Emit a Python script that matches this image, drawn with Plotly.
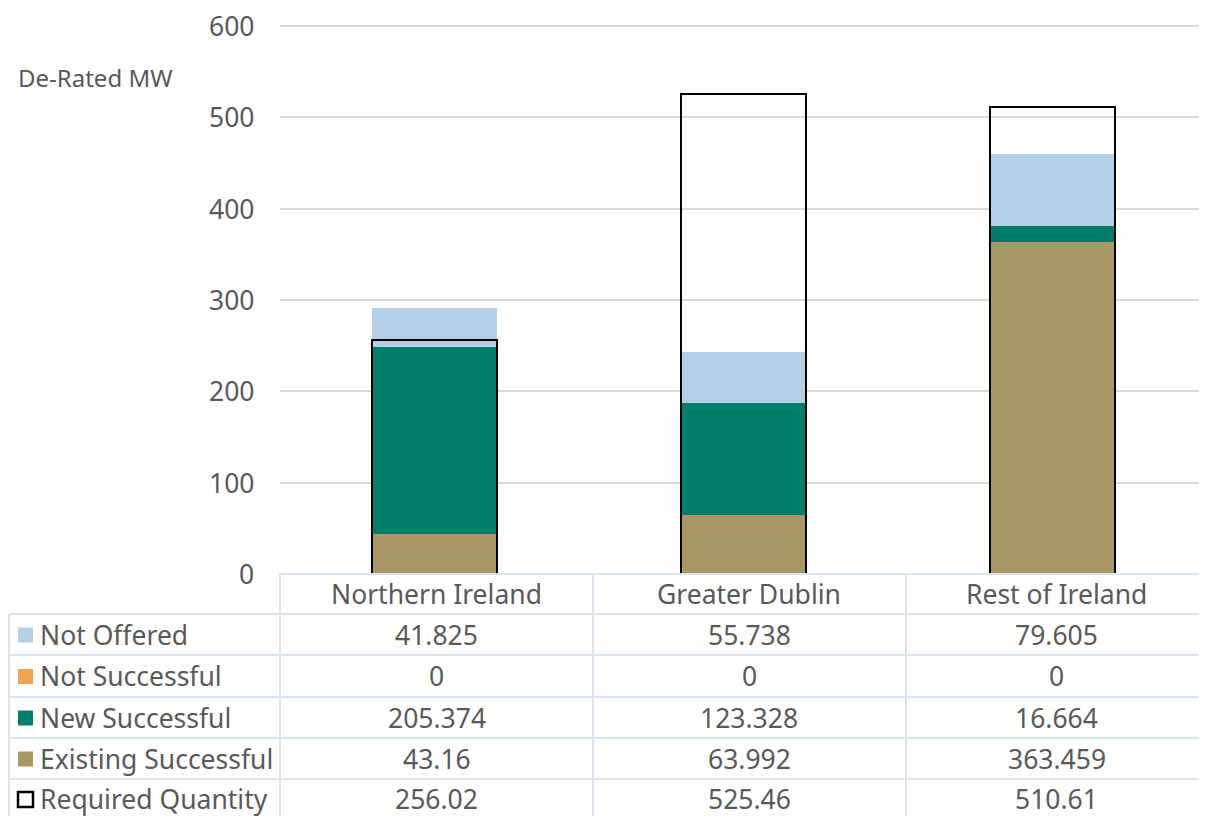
import plotly.graph_objects as go

W, H = 1207, 816
OFF = 8  # page body margin offset

categories = ["Northern Ireland", "Greater Dublin", "Rest of Ireland"]
not_offered = [41.825, 55.738, 79.605]
not_successful = [0, 0, 0]
new_successful = [205.374, 123.328, 16.664]
existing_successful = [43.16, 63.992, 363.459]
required_quantity = [256.02, 525.46, 510.61]
y_ticks = [0, 100, 200, 300, 400, 500, 600]
y_title = "De-Rated MW"

FONT = "Noto Sans, DejaVu Sans, sans-serif"
FS = 26.5
TXT = "#595959"
GRID = "#d9d9d9"
TLINE = "#dae5f3"

C_NO = "#b4d0e8"
C_NS = "#f0a352"
C_NEW = "#007e69"
C_EX = "#a99863"


def px(x):
    return (x - OFF) / W


def py(y):
    return 1 - (y - OFF) / H


fig = go.Figure()
BW = 0.405
for name, vals, col in [
    ("Existing Successful", existing_successful, C_EX),
    ("New Successful", new_successful, C_NEW),
    ("Not Successful", not_successful, C_NS),
    ("Not Offered", not_offered, C_NO),
]:
    fig.add_trace(go.Bar(x=categories, y=vals, name=name, width=BW,
                         marker=dict(color=col, line=dict(width=0)),
                         showlegend=False, xaxis="x", yaxis="y"))

fig.add_trace(go.Bar(x=categories, y=required_quantity, name="Required Quantity",
                     width=BW, marker=dict(color="rgba(0,0,0,0)",
                                           line=dict(color="#000000", width=2.5)),
                     showlegend=False, xaxis="x2", yaxis="y"))

# pixel positions of y=0 and y=600 in the reference
Y0_PX, Y600_PX = 574, 26
Y_MAX = 604
top_px = Y0_PX - (Y0_PX - Y600_PX) * Y_MAX / 600

x_dom = [px(280), min(1.0, px(1207))]
y_dom = [py(Y0_PX), py(top_px)]

fig.update_layout(
    width=W, height=H, autosize=False,
    margin=dict(l=0, r=0, t=0, b=0, pad=0, autoexpand=False),
    paper_bgcolor="white", plot_bgcolor="white",
    barmode="stack", bargap=0,
    font=dict(family=FONT, color=TXT, size=FS),
    xaxis=dict(domain=x_dom, range=[-0.5, 2.5], showticklabels=False,
               showgrid=False, zeroline=False, showline=False, ticks="",
               automargin=False),
    xaxis2=dict(domain=x_dom, range=[-0.5, 2.5], overlaying="x", anchor="y",
                showticklabels=False, showgrid=False, zeroline=False,
                showline=False, ticks="", matches="x", automargin=False),
    yaxis=dict(domain=y_dom, range=[0, Y_MAX], tickvals=y_ticks,
               showticklabels=False,
               showgrid=True, gridcolor=GRID, gridwidth=1.8,
               zeroline=False, showline=False, ticks="",
               automargin=False),
)

shapes = []
annotations = []

# y tick labels placed on the y axis scale
for v in y_ticks:
    annotations.append(dict(x=px(256), y=v, xref="paper", yref="y",
                            text=str(v), showarrow=False, xanchor="right",
                            yanchor="middle",
                            font=dict(family=FONT, size=FS, color=TXT)))

annotations.append(dict(x=px(16), y=py(77), xref="paper", yref="paper",
                        text=y_title, showarrow=False, xanchor="left",
                        yanchor="middle",
                        font=dict(family=FONT, size=24, color=TXT)))

col_x = [280, 593, 906, 1207]
row_y = [574, 614, 655, 697, 738, 779, 816]


def hline(y, x0, x1):
    shapes.append(dict(type="line", xref="paper", yref="paper",
                       x0=px(x0), x1=px(x1), y0=py(y), y1=py(y),
                       line=dict(color=TLINE, width=2)))


def vline(x, y0, y1):
    shapes.append(dict(type="line", xref="paper", yref="paper",
                       x0=px(x), x1=px(x), y0=py(y0), y1=py(y1),
                       line=dict(color=TLINE, width=2)))


hline(574, 280, 1207)
for y in row_y[1:-1]:
    hline(y, 9, 1207)
vline(9, 614, 816)
for x in col_x[:-1]:
    vline(x, 574, 816)

for i, c in enumerate(categories):
    cx = (col_x[i] + col_x[i + 1]) / 2
    annotations.append(dict(x=px(cx), y=py(594), xref="paper", yref="paper",
                            text=c, showarrow=False, xanchor="center",
                            yanchor="middle",
                            font=dict(family=FONT, size=FS, color=TXT)))

rows = [
    ("Not Offered", not_offered, C_NO, False),
    ("Not Successful", not_successful, C_NS, False),
    ("New Successful", new_successful, C_NEW, False),
    ("Existing Successful", existing_successful, C_EX, False),
    ("Required Quantity", required_quantity, None, True),
]

for r, (name, vals, col, outline) in enumerate(rows):
    y0, y1 = row_y[r + 1], row_y[r + 2]
    cy = (y0 + y1) / 2 if r < 4 else 799
    if outline:
        shapes.append(dict(type="rect", xref="paper", yref="paper",
                           x0=px(18), x1=px(33), y0=py(cy + 8), y1=py(cy - 7),
                           fillcolor="white",
                           line=dict(color="#000000", width=2.5)))
    else:
        shapes.append(dict(type="rect", xref="paper", yref="paper",
                           x0=px(18), x1=px(33), y0=py(cy + 8), y1=py(cy - 7),
                           fillcolor=col, line=dict(width=0)))
    annotations.append(dict(x=px(38), y=py(cy), xref="paper", yref="paper",
                            text=name, showarrow=False, xanchor="left",
                            yanchor="middle",
                            font=dict(family=FONT, size=FS, color=TXT)))
    for i, v in enumerate(vals):
        cx = (col_x[i] + col_x[i + 1]) / 2
        annotations.append(dict(x=px(cx), y=py(cy), xref="paper", yref="paper",
                                text=f"{v:g}", showarrow=False,
                                xanchor="center", yanchor="middle",
                                font=dict(family=FONT, size=FS, color=TXT)))

fig.update_layout(shapes=shapes, annotations=annotations)
fig.write_html("out.html")
